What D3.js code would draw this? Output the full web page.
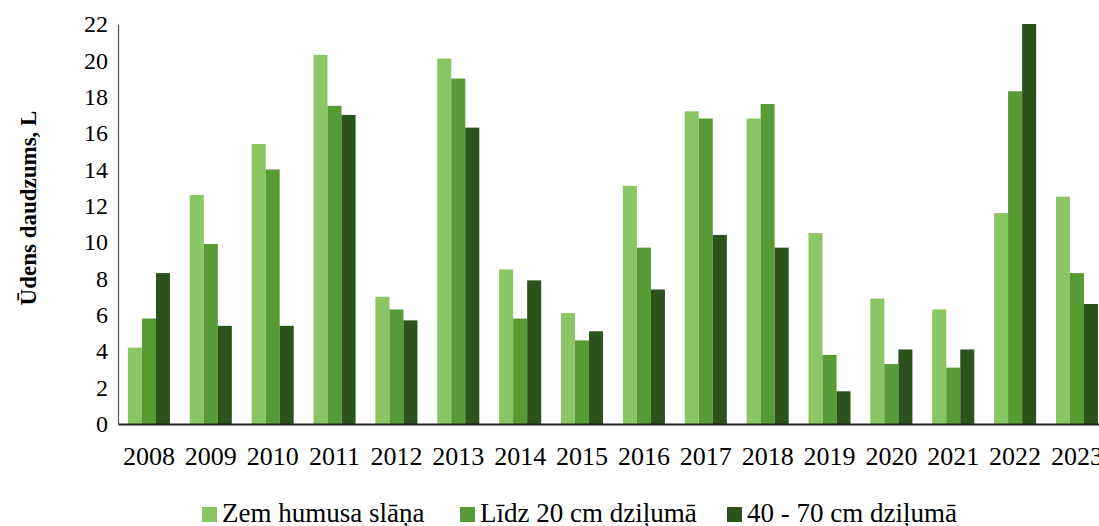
<!DOCTYPE html>
<html>
<head>
<meta charset="utf-8">
<script src="https://cdn.jsdelivr.net/npm/d3@7"></script>
<style>
  html, body { margin: 0; padding: 0; background: #fff; }
  svg { display: block; font-family: "Liberation Serif", "Times New Roman", serif; }
</style>
</head>
<body>
<svg id="chart" width="1099" height="526"></svg>
<script>
const years = ["2008","2009","2010","2011","2012","2013","2014","2015","2016","2017","2018","2019","2020","2021","2022","2023"];
const seriesNames = ["Zem humusa slāņa", "Līdz 20 cm dziļumā", "40 - 70 cm dziļumā"];
const seriesColors = ["#8bc665", "#589a34", "#2b531b"];
const zemHumusa = [4.2, 12.6, 15.4, 20.3, 7.0, 20.1, 8.5, 6.1, 13.1, 17.2, 16.8, 10.5, 6.9, 6.3, 11.6, 12.5];
const lidz20 = [5.8, 9.9, 14.0, 17.5, 6.3, 19.0, 5.8, 4.6, 9.7, 16.8, 17.6, 3.8, 3.3, 3.1, 18.3, 8.3];
const dzilums4070 = [8.3, 5.4, 5.4, 17.0, 5.7, 16.3, 7.9, 5.1, 7.4, 10.4, 9.7, 1.8, 4.1, 4.1, 22.0, 6.6];
const yTicks = [0, 2, 4, 6, 8, 10, 12, 14, 16, 18, 20, 22];
const yTitle = "Ūdens daudzums, L";

const seriesValues = [zemHumusa, lidz20, dzilums4070];

const svg = d3.select("#chart");
const plotLeft = 118, plotTop = 24, plotBottom = 424;
const step = 61.87;
const serif = "'Liberation Serif', 'Times New Roman', serif";

const x = d3.scaleBand().domain(years)
  .range([plotLeft, plotLeft + step * years.length])
  .paddingInner(0.32).paddingOuter(0.16);
const xs = d3.scaleBand().domain(d3.range(seriesNames.length)).range([0, x.bandwidth()]);
const y = d3.scaleLinear().domain([0, 22]).range([plotBottom, plotTop]);

// bars
const groups = svg.append("g").selectAll("g").data(years).join("g")
  .attr("transform", d => `translate(${x(d)},0)`);
groups.selectAll("rect")
  .data((d, i) => seriesValues.map((s, k) => ({k, v: s[i]})))
  .join("rect")
  .attr("x", d => xs(d.k))
  .attr("width", xs.bandwidth())
  .attr("y", d => y(d.v))
  .attr("height", d => y(0) - y(d.v))
  .attr("fill", d => seriesColors[d.k]);

// y axis
const yAxis = d3.axisLeft(y).tickValues(yTicks).tickSize(0).tickPadding(10);
const gy = svg.append("g").attr("transform", `translate(${plotLeft},0)`).call(yAxis)
  .attr("font-family", serif);
gy.select(".domain").attr("stroke", "#555").attr("stroke-width", 1.2);
gy.selectAll("text").attr("font-size", 24).attr("fill", "#000");

// x axis
const xAxis = d3.axisBottom(x).tickSize(0).tickPadding(23);
const gx = svg.append("g").attr("transform", `translate(0,${plotBottom})`).call(xAxis)
  .attr("font-family", serif);
gx.select(".domain").attr("stroke", "#222").attr("stroke-width", 1.8);
gx.selectAll("text").attr("font-size", 26).attr("fill", "#000");

// y title
svg.append("text")
  .attr("transform", `translate(36,208) rotate(-90)`)
  .attr("text-anchor", "middle")
  .attr("font-size", 23).attr("font-weight", "bold")
  .text(yTitle);

// legend
const legendX = [202, 460, 727];
const lg = svg.append("g").selectAll("g").data(seriesNames).join("g")
  .attr("transform", (d, i) => `translate(${legendX[i]},507)`);
lg.append("rect").attr("width", 15).attr("height", 15).attr("fill", (d, i) => seriesColors[i]);
lg.append("text").attr("x", 20).attr("y", 15).attr("font-size", 27).text(d => d);
</script>
</body>
</html>
